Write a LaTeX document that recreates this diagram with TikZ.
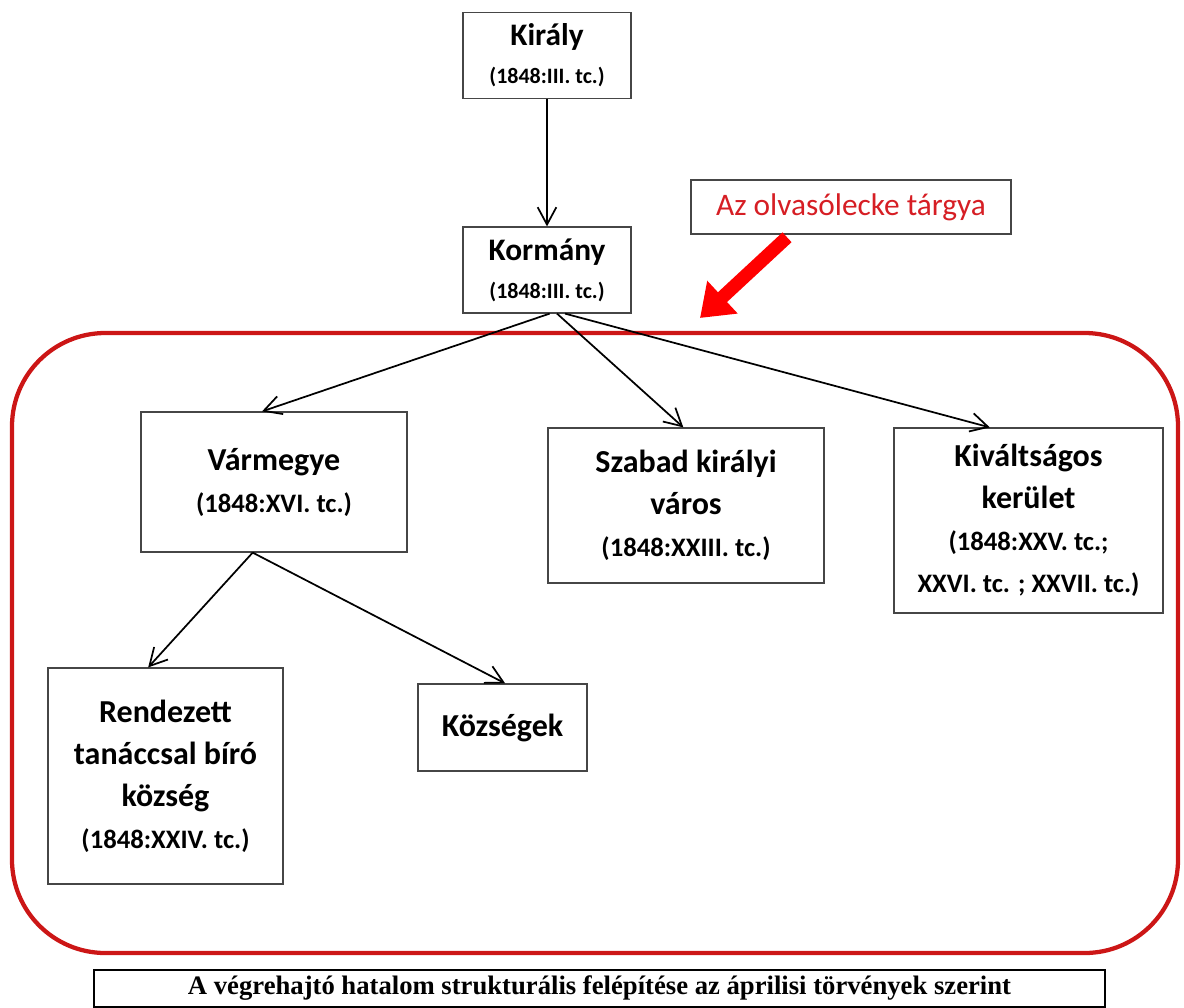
\documentclass[tikz,border=0pt]{standalone}
\usepackage{fontspec}
\setmainfont{Carlito}
\newfontfamily\capfont{Liberation Serif}
\usetikzlibrary{arrows.meta}
\definecolor{framered}{RGB}{204,22,22}
\definecolor{labelred}{RGB}{214,30,36}
\definecolor{boxgrey}{RGB}{70,70,70}
\newcommand{\boxtitle}{\fontsize{24}{31.5}\selectfont\bfseries}
\newcommand{\toptitle}{\fontsize{23.5}{28.5}\selectfont\bfseries}
\newcommand{\toplaw}[1]{{\fontsize{16.5}{28.5}\selectfont #1}}
\newcommand{\boxlaw}[1]{{\fontsize{20}{31.5}\selectfont #1}}
\tikzset{
    box/.style = { draw=boxgrey, line width=0.9pt, align=center, inner sep=0, font=\boxtitle, },
    arrow/.style = { -{Straight Barb[length=13pt,width=14pt]}, line width=1.3pt, },
    bigarrow/.style = { -{Triangle[length=23pt,width=32pt]}, line width=10pt, draw=red, },
    frame/.style = { draw=framered, line width=3.2pt, rounded corners=70pt, },
}

\begin{document}
\begin{tikzpicture}[x=0.75pt,y=-0.75pt]

    \useasboundingbox (0,0) rectangle (1184,1007);

    \draw [frame] (12,333) rectangle (1178,953);

    \node [box,minimum width=126pt,minimum height=64pt,font=\toptitle] (kiraly) at (547,55.5) {Király\\\toplaw{(1848:III. tc.)}};
    \node [box,minimum width=126pt,minimum height=64.5pt,font=\toptitle] (kormany) at (547,270) {Kormány\\\toplaw{(1848:III. tc.)}};

    \node [box,minimum width=240pt,minimum height=40.5pt,font=\fontsize{23.5}{26}\selectfont,text=labelred] (label) at (851,207) {Az olvasólecke tárgya};

    \node [box,minimum width=199.5pt,minimum height=105pt] (varmegye) at (274,482) {Vármegye\\\boxlaw{(1848:XVI. tc.)}};
    \node [box,minimum width=207pt,minimum height=116.25pt] (varos) at (686,505.5) {Szabad királyi\\város\\\boxlaw{(1848:XXIII. tc.)}};
    \node [box,minimum width=201.75pt,minimum height=138.75pt] (kerulet) at (1028.5,520.5) {Kiváltságos\\kerület\\\boxlaw{(1848:XXV. tc.;}\\\boxlaw{XXVI. tc. ; XXVII. tc.)}};

    \node [box,minimum width=176.25pt,minimum height=162pt] (rendezett) at (165.5,776) {Rendezett\\tanáccsal bíró\\község\\\boxlaw{(1848:XXIV. tc.)}};
    \node [box,minimum width=126.75pt,minimum height=65.25pt] (kozsegek) at (502.5,727.5) {Községek};

    \node [box,draw=black,line width=1.5pt,minimum width=758.25pt,minimum height=27.75pt,font=\capfont\bfseries\fontsize{20}{24}\selectfont] (caption) at (599.5,988) {A végrehajtó hatalom strukturális felépítése az áprilisi törvények szerint};

    \draw [arrow] (kiraly) -- (kormany);

    \draw [arrow] ([xshift=2pt]kormany.south) -- ([xshift=-9pt]varmegye.north);
    \draw [arrow] ([xshift=7.5pt]kormany.south) -- ([xshift=-2pt]varos.north);
    \draw [arrow] ([xshift=13.5pt]kormany.south) -- ([xshift=-29pt]kerulet.north);

    \draw [arrow] ([xshift=-16pt]varmegye.south) -- ([xshift=-13pt]rendezett.north);
    \draw [arrow] ([xshift=-16pt]varmegye.south) -- ([xshift=2pt]kozsegek.north);

    \coordinate (aim) at (700,318);
    \draw [bigarrow] ([xshift=-48pt,yshift=-2pt]label.south) -- (aim);

\end{tikzpicture}
\end{document}
